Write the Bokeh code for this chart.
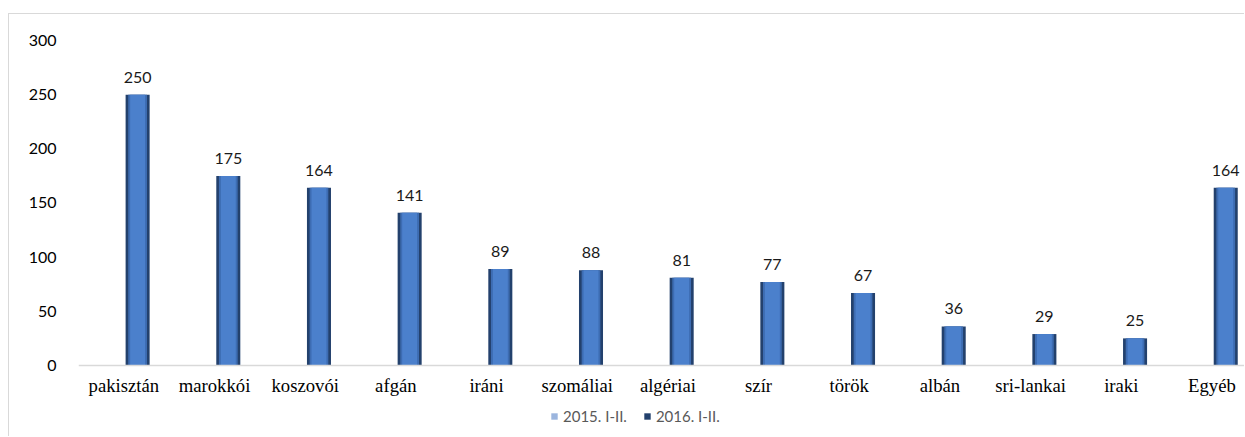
from bokeh.plotting import figure
from bokeh.models import (ColumnDataSource, LabelSet, Legend, LegendItem, FixedTicker,
                          Range1d, Span)
from bokeh.core.properties import value
from bokeh.embed import file_html
from bokeh.resources import INLINE

categories = ["pakisztán", "marokkói", "koszovói", "afgán", "iráni", "szomáliai",
              "algériai", "szír", "török", "albán", "sri-lankai", "iraki", "Egyéb"]
values_2015 = [0, 0, 0, 0, 0, 0, 0, 0, 0, 0, 0, 0, 0]
values_2016 = [250, 175, 164, 141, 89, 88, 81, 77, 67, 36, 29, 25, 164]
series_names = ["2015. I-II.", "2016. I-II."]
y_ticks = [0, 50, 100, 150, 200, 250, 300]

xs = [i + 0.5 for i in range(len(categories))]
bw = 0.265
off = 0.152
src = ColumnDataSource(dict(
    x=xs,
    x15=[x - off for x in xs],
    x16=[x + off for x in xs],
    v15=values_2015,
    v16=values_2016,
    lab=[str(v) for v in values_2016],
))
cat_src = ColumnDataSource(dict(x=xs, y=[0] * len(xs), name=categories))

p = figure(width=1236, height=423, output_backend="svg", toolbar_location=None,
           x_range=Range1d(0, 12.87), y_range=Range1d(-66.5, 300),
           min_border_left=69, min_border_right=0, min_border_top=26, min_border_bottom=0)
p.styles = {"border-top": "1px solid #d9d9d9", "border-left": "1px solid #d9d9d9",
            "margin-top": "13px", "margin-left": "8px"}
p.outline_line_color = None
p.grid.visible = False
p.xaxis.visible = False

r15 = p.vbar(x="x15", top="v15", width=bw, source=src, fill_color="#9bb5de", line_color=None)
base = p.vbar(x="x16", top="v16", width=bw, source=src, fill_color="#23416d", line_color=None)
p.vbar(x="x16", top="v16", width=bw * 0.78, source=src, fill_color="#3d6cb2", line_color=None)
p.vbar(x="x16", top="v16", width=bw * 0.62, source=src, fill_color="#4b80cc", line_color=None)

p.add_layout(Span(location=0, dimension="width", line_color="#d9d9d9", line_width=1.5))

labels = LabelSet(x="x16", y="v16", text="lab", source=src, text_align="center",
                  text_baseline="bottom", y_offset=12, text_font=value("Lato"),
                  text_font_style="normal",
                  text_font_size=value("16px"), text_color="#1a1a1a")
p.add_layout(labels)

cat_labels = LabelSet(x="x", y="y", text="name", source=cat_src, text_align="center",
                      text_baseline="top", y_offset=-10,
                      text_font=value("Liberation Serif"),
                      text_font_size=value("18.7px"), text_color="#000000")
p.add_layout(cat_labels)

p.yaxis.ticker = FixedTicker(ticks=y_ticks)
p.yaxis.axis_line_color = None
p.yaxis.major_tick_line_color = None
p.yaxis.minor_tick_line_color = None
p.yaxis.major_label_text_font = "Lato"
p.yaxis.major_label_text_font_size = "16px"
p.yaxis.major_label_text_color = "#000000"
p.yaxis.major_label_standoff = 16

legend = Legend(items=[LegendItem(label=series_names[0], renderers=[r15]),
                       LegendItem(label=series_names[1], renderers=[base])],
                orientation="horizontal", location=(472, 12),
                glyph_width=8, glyph_height=8, label_height=14, label_standoff=5,
                spacing=16, padding=0, margin=0, border_line_color=None,
                background_fill_alpha=0, label_text_font="Lato",
                label_text_font_size="15px", label_text_color="#595959")
p.add_layout(legend, "center")

open("out.html", "w").write(file_html(p, INLINE))
